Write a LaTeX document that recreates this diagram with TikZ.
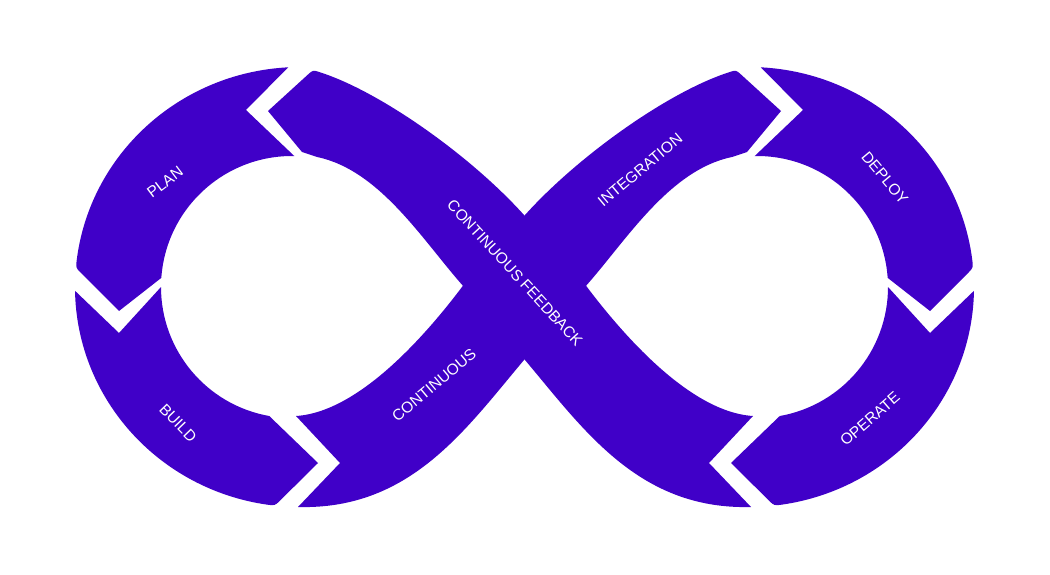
\documentclass[tikz,border=0pt]{standalone}
\usepackage{fontspec}
\setmainfont{Liberation Sans}
\definecolor{dv}{RGB}{64,0,200}
\newcommand\planshape{(288.22,67.30) -- (246,110) -- (294.29,156.02) arc[start angle=271, end angle=184, radius=131] -- (119,311) -- (80.8,272.8) .. controls (75.86,267.83) .. (76.7,260.2) arc[start angle=187, end angle=267, x radius=225, y radius=220] -- cycle}
\newcommand\buildshape{(75.03,290.84) -- (119,333) -- (161,287) arc[start angle=180, end angle=100, radius=131] -- (318,463) -- (279.9,500.7) .. controls (274.92,505.63) .. (267.13,504.65) arc[start angle=98.4, end angle=179, x radius=225, y radius=220] -- cycle}
\newcommand\cishape{(296,416) -- (340,463) -- (298,507) .. controls (410,510) and (465,430) .. (524,360) -- (585,287) .. controls (626,241) and (669,170) .. (732,157) -- (747,152) -- (781,111) -- (741.2,74.7) .. controls (736,70) .. (729.3,72.2) .. controls (670,91) and (579,155) .. (525,215) -- (462,287) .. controls (428,332) and (360,412) .. cycle}
\begin{document}
\begin{tikzpicture}[x=1pt,y=-1pt,
  seg/.style={fill=dv},
  lbl/.style={text=white, font=\fontsize{15.5}{15.5}\selectfont, inner sep=0pt}]
\useasboundingbox (0,0) rectangle (1050,575);
\fill[white] (0,0) rectangle (1050,575);
% left half
\fill[seg] \planshape;
\fill[seg] \buildshape;
\fill[seg] \cishape;
% right half (mirror)
\begin{scope}[xshift=1049pt, xscale=-1]
\fill[seg] \planshape;
\fill[seg] \buildshape;
\fill[seg] \cishape;
\end{scope}
% labels
\node[lbl, rotate=37] (plan) at (165,182) {PLAN};
\node[lbl, rotate=-46] (build) at (178,423) {BUILD};
\node[lbl, rotate=40] (cont) at (434,385) {CONTINUOUS};
\node[lbl, rotate=-47.5] (feed) at (515,273) {CONTINUOUS FEEDBACK};
\node[lbl, rotate=40] (integ) at (640,170) {INTEGRATION};
\node[lbl, rotate=-50] (deploy) at (885,178) {DEPLOY};
\node[lbl, rotate=41] (operate) at (870,419) {OPERATE};
\end{tikzpicture}
\end{document}
